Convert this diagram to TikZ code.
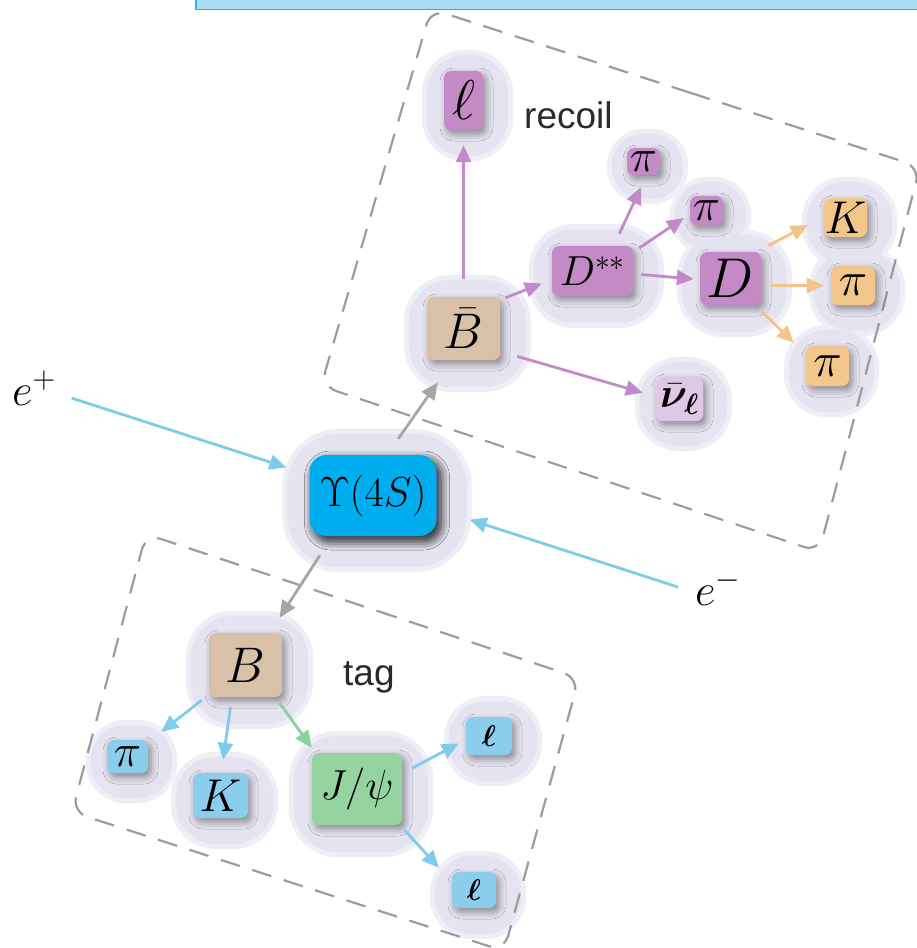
\RequirePackage{fix-cm}
\documentclass[tikz,border=0pt]{standalone}
\usepackage{bm}
\usepackage[no-math]{fontspec}
\newfontfamily\labelfont{Liberation Sans}
\usetikzlibrary{arrows.meta,shadows.blur}
\pgfdeclarelayer{background}
\pgfsetlayers{background,main}
\newcommand\fsz[1]{\fontsize{#1}{#1}\selectfont}
\definecolor{cPur}{HTML}{C48AC6}
\definecolor{cTan}{HTML}{D9C1A8}
\definecolor{cOra}{HTML}{F3C68C}
\definecolor{cBlu}{HTML}{8BCDED}
\definecolor{cGrn}{HTML}{95D3A1}
\definecolor{cUps}{HTML}{00AEEF}
\definecolor{cNu}{HTML}{DFC8E5}
\definecolor{cHalo}{HTML}{E4E3EF}
\definecolor{cHaloOut}{HTML}{EEEEF6}
\definecolor{aPur}{HTML}{C28ACA}
\definecolor{aOra}{HTML}{F2C38A}
\definecolor{aBlu}{HTML}{80CBEC}
\definecolor{aGrn}{HTML}{8DD09C}
\definecolor{aGry}{HTML}{A8A5A5}
\definecolor{cDash}{HTML}{9C9C9C}
\definecolor{topFill}{HTML}{A7DEF4}
\definecolor{topLine}{HTML}{35AEE2}
\definecolor{txtGray}{HTML}{2A2A2A}
\tikzset{
  pbox/.style={rounded corners=7pt, inner sep=0pt, text=black,
    blur shadow={shadow xshift=3pt, shadow yshift=-4pt, shadow blur radius=7pt, shadow opacity=40}},
  sz/.style 2 args={minimum width=#1pt, minimum height=#2pt},
  arrbase/.style={line width=2.8pt, -{Triangle[length=17pt,width=15pt]}},
  arrP/.style={arrbase, draw=aPur, fill=aPur},
  arrO/.style={arrbase, draw=aOra, fill=aOra},
  arrB/.style={arrbase, draw=aBlu, fill=aBlu},
  arrG/.style={arrbase, draw=aGrn, fill=aGrn},
  arrY/.style={arrbase, draw=aGry, fill=aGry},
  dbox/.style={draw=cDash, line width=2.2pt, dash pattern=on 20pt off 13pt, rounded corners=16pt},
  lbl/.style={anchor=base west, inner sep=0pt, text=txtGray},
}
\begin{document}
\begin{tikzpicture}[x=1pt,y=-1pt]
\useasboundingbox (0,0) rectangle (917,948);
% top strip
\draw[topLine, fill=topFill, line width=1.6pt] (196,-20) rectangle (940,9.5);
% dashed groups
\draw[dbox] (675.5,88) -- (920,167) -- (819,552) -- (321,386) -- (431,9) -- cycle;
\draw[dbox] (362.5,606) -- (579,678) -- (504,951) -- (72,812) -- (146,534) -- cycle;
% recoil side
\node[pbox, fill=cPur, sz={39}{59}] (lr) at (463.5,100.5) {\fsz{56}$\ell$};
\node[pbox, fill=cTan, sz={73}{63}] (bbar) at (463.5,328.5) {\fsz{50}$\bar{B}$};
\node[pbox, fill=cPur, sz={81}{50}] (dss) at (592.5,271) {\fsz{42}$D^{**}$};
\node[pbox, fill=cPur, sz={33}{27}] (pia) at (643.5,161.5) {\fsz{46}$\pi$};
\node[pbox, fill=cPur, sz={33}{29}] (pib) at (706.5,210.5) {\fsz{46}$\pi$};
\node[pbox, fill=cPur, sz={61}{53}] (dd) at (730.5,278.5) {\fsz{56}$D$};
\node[pbox, fill=cOra, sz={43}{39}] (kk) at (845.5,217.5) {\fsz{46}$K$};
\node[pbox, fill=cOra, sz={44}{39}] (pic) at (853,285.5) {\fsz{48}$\pi$};
\node[pbox, fill=cOra, sz={43}{40}] (pid) at (827.5,366) {\fsz{48}$\pi$};
\node[pbox, fill=cNu, sz={47}{44}] (nu) at (679.5,399) {\fsz{42}$\bar{\bm{\nu}}_{\bm{\ell}}$};
% centre
\node[pbox, fill=cUps, sz={127}{81}, rounded corners=17pt,
  blur shadow={shadow xshift=4pt, shadow yshift=-5pt, shadow blur radius=9pt, shadow opacity=55}] (ups) at (373,495.5) {\fsz{42}$\Upsilon(4S)$};
% tag side
\node[pbox, fill=cTan, sz={73}{64}] (bt) at (245.5,665) {\fsz{50}$B$};
\node[pbox, fill=cBlu, sz={41}{33}] (pit) at (127.5,756.5) {\fsz{46}$\pi$};
\node[pbox, fill=cBlu, sz={55}{45}] (kt) at (220.5,795.5) {\fsz{46}$K$};
\node[pbox, fill=cGrn, sz={90}{72}] (jj) at (357,789) {\fsz{42}$J/\psi$};
\node[pbox, fill=cBlu, sz={46}{38}] (l1) at (489,736) {\fsz{30}$\bm{\ell}$};
\node[pbox, fill=cBlu, sz={44}{36}] (l2) at (474,890) {\fsz{30}$\bm{\ell}$};
% labels
\node[lbl] (rec) at (524,128) {\labelfont\fsz{37}recoil};
\node[lbl] (tag) at (343,685) {\labelfont\fsz{37}tag};
\node[lbl, text=black] (ep) at (12,405) {\fsz{45}$e^+$};
\node[lbl, text=black] (em) at (695,605) {\fsz{45}$e^-$};
% halos
\begin{pgfonlayer}{background}
\foreach \n/\m/\r in {lr/21/38,bbar/22/42,dss/22/40,pia/19/32,pib/19/33,dd/22/42,kk/21/38,pic/21/38,pid/21/38,nu/20/39,bt/22/42,pit/20/35,kt/21/40,jj/22/44,l1/21/38,l2/21/37,ups/26/52}
  \fill[cHaloOut, rounded corners={(\r+5)*1pt}]
    ([shift={(4-\m-5,5-\m-5)}]\n.north west) rectangle ([shift={(4+\m+5,5+\m+5)}]\n.south east);
\foreach \n/\m/\r in {lr/21/38,bbar/22/42,dss/22/40,pia/19/32,pib/19/33,dd/22/42,kk/21/38,pic/21/38,pid/21/38,nu/20/39,bt/22/42,pit/20/35,kt/21/40,jj/22/44,l1/21/38,l2/21/37,ups/26/52}
  \fill[cHalo, rounded corners={\r*1pt}]
    ([shift={(4-\m,5-\m)}]\n.north west) rectangle ([shift={(4+\m,5+\m)}]\n.south east);
\end{pgfonlayer}
% connectors
\draw[arrY, shorten <=19.5pt, shorten >=27pt] (ups.71) -- (bbar.252);
\draw[arrY, shorten <=22.7pt, shorten >=18pt] (ups.-135) -- (bt.53.5);
\draw[arrB, shorten <=16.5pt, shorten >=24pt] (ep.-13) -- (ups.162.4);
\draw[arrB, shorten <=17.8pt, shorten >=34.7pt] (em.192.3) -- (ups.-12.4);
\draw[arrP, shorten <=18pt, shorten >=15pt] (bbar.north) -- (lr.south);
\draw[arrP, shorten <=5.4pt, shorten >=10.7pt] (bbar.38.1) -- (dss.192.8);
\draw[arrP, shorten <=17.7pt, shorten >=13.5pt] (bbar.-32.9) -- (nu.174.4);
\draw[arrP, shorten <=13.2pt, shorten >=13.2pt] (dss.50.1) -- (pia.-77);
\draw[arrP, shorten <=7.2pt, shorten >=7.2pt] (dss.25.1) -- (pib.192);
\draw[arrP, shorten <=8pt, shorten >=6pt] (dss.-4.8) -- (dd.182);
\draw[arrO, shorten <=13.2pt, shorten >=18pt] (dd.46.9) -- (kk.178);
\draw[arrO, shorten <=11pt, shorten >=7pt] (dd.-13.8) -- (pic.180);
\draw[arrO, shorten <=8.6pt, shorten >=16.7pt] (dd.-47.5) -- (pid.152);
\draw[arrB, shorten <=8.9pt, shorten >=16.5pt] (bt.-141) -- (pit.35.1);
\draw[arrB, shorten <=10.1pt, shorten >=13.1pt] (bt.-113.9) -- (kt.88);
\draw[arrG, shorten <=7.4pt, shorten >=6.2pt] (bt.-47.6) -- (jj.139.7);
\draw[arrB, shorten <=11.3pt, shorten >=7.9pt] (jj.19.2) -- (l1.-171.8);
\draw[arrB, shorten <=6.8pt, shorten >=19.2pt] (jj.-40.3) -- (l2.160.2);
\end{tikzpicture}
\end{document}
